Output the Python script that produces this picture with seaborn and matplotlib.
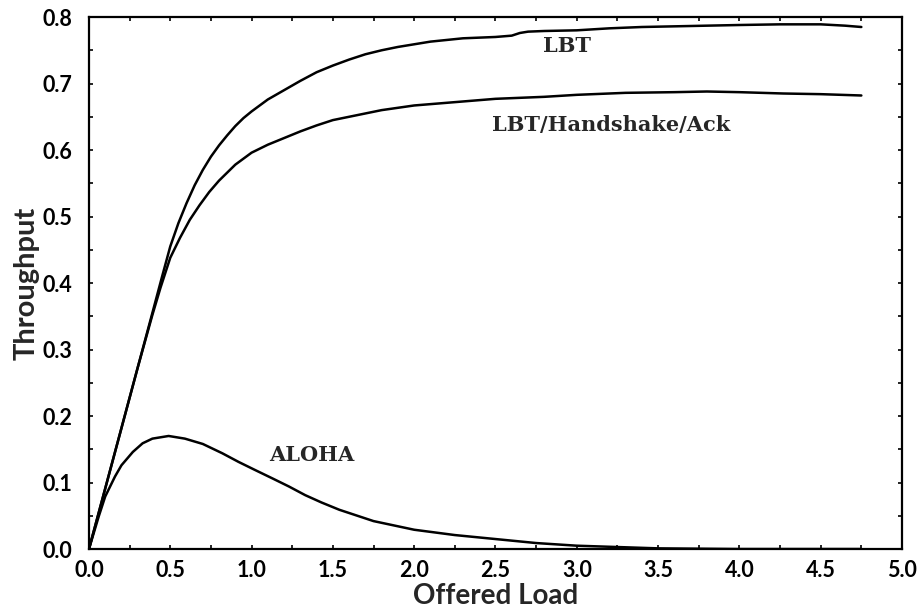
import numpy as np
import pandas as pd
import matplotlib
matplotlib.use("Agg")
import matplotlib.pyplot as plt
import seaborn as sns
from matplotlib.ticker import MultipleLocator

# ---- data ----
lbt_x = [0, 0.1, 0.2, 0.3, 0.39, 0.45, 0.5, 0.55, 0.6, 0.65, 0.7, 0.75, 0.8, 0.85,
         0.9, 0.95, 1.0, 1.1, 1.2, 1.3, 1.4, 1.5, 1.6, 1.7, 1.8, 1.9, 2.0, 2.1,
         2.3, 2.5, 2.6, 2.65, 2.7, 2.8, 3.0, 3.2, 3.4, 3.6, 3.8, 4.0, 4.25, 4.5,
         4.65, 4.75]
lbt_y = [0, 0.091, 0.182, 0.273, 0.355, 0.41, 0.455, 0.49, 0.52, 0.547, 0.57,
         0.59, 0.607, 0.622, 0.636, 0.648, 0.658, 0.676, 0.690, 0.704, 0.717,
         0.727, 0.736, 0.744, 0.750, 0.755, 0.759, 0.763, 0.768, 0.770, 0.772,
         0.776, 0.778, 0.779, 0.780, 0.783, 0.785, 0.786, 0.787, 0.788, 0.789,
         0.789, 0.787, 0.785]

hs_x = [0, 0.1, 0.2, 0.3, 0.39, 0.44, 0.5, 0.56, 0.62, 0.68, 0.74, 0.8, 0.9, 1.0,
        1.1, 1.2, 1.3, 1.4, 1.5, 1.6, 1.8, 2.0, 2.2, 2.5, 2.8, 3.0, 3.3, 3.6, 3.8,
        4.0, 4.27, 4.5, 4.75]
hs_y = [0, 0.091, 0.182, 0.273, 0.352, 0.393, 0.438, 0.468, 0.495, 0.517, 0.537,
        0.554, 0.578, 0.596, 0.608, 0.618, 0.628, 0.637, 0.645, 0.650, 0.660,
        0.667, 0.671, 0.677, 0.680, 0.683, 0.686, 0.687, 0.688, 0.687, 0.685,
        0.684, 0.682]

aloha_x = [0, 0.06, 0.1, 0.16, 0.2, 0.27, 0.33, 0.39, 0.49, 0.59, 0.7, 0.82, 0.92,
           1.02, 1.13, 1.23, 1.33, 1.43, 1.54, 1.75, 2.0, 2.25, 2.5, 2.75, 3.0,
           3.25, 3.5, 4.0, 4.75]
aloha_y = [0, 0.049, 0.079, 0.109, 0.126, 0.146, 0.159, 0.166, 0.170, 0.166,
           0.158, 0.144, 0.131, 0.119, 0.106, 0.094, 0.081, 0.070, 0.059, 0.042,
           0.029, 0.021, 0.015, 0.009, 0.005, 0.003, 0.001, 0.0, 0.0]

series_names = ["LBT", "LBT/Handshake/Ack", "ALOHA"]
x_ticks = [0.0, 0.5, 1.0, 1.5, 2.0, 2.5, 3.0, 3.5, 4.0, 4.5, 5.0]
y_ticks = [0.0, 0.1, 0.2, 0.3, 0.4, 0.5, 0.6, 0.7, 0.8]

df = pd.concat([
    pd.DataFrame({"load": lbt_x, "thr": lbt_y, "series": series_names[0]}),
    pd.DataFrame({"load": hs_x, "thr": hs_y, "series": series_names[1]}),
    pd.DataFrame({"load": aloha_x, "thr": aloha_y, "series": series_names[2]}),
], ignore_index=True)

sns.set_style("ticks")
plt.rcParams["font.family"] = ["Lato", "DejaVu Sans"]

fig = plt.figure(figsize=(9.19, 6.08), dpi=100)
ax = fig.add_axes([0.0968, 0.097, 0.8847, 0.875])

sns.lineplot(data=df, x="load", y="thr", hue="series", units="series",
             estimator=None, sort=False,
             palette={n: "black" for n in series_names}, linewidth=1.8,
             legend=False, ax=ax)

ax.set_xlim(0, 5)
ax.set_ylim(0, 0.8)
ax.set_xticks(x_ticks)
ax.set_yticks(y_ticks)
ax.set_xticklabels([f"{v:.1f}" for v in x_ticks])
ax.set_yticklabels([f"{v:.1f}" for v in y_ticks])
ax.xaxis.set_minor_locator(MultipleLocator(0.25))
ax.yaxis.set_minor_locator(MultipleLocator(0.05))
ax.tick_params(which="both", direction="in", top=True, right=True,
               length=3, width=1.2, colors="black")
ax.tick_params(axis="x", which="major", labelsize=15.5, pad=8)
ax.tick_params(axis="y", which="major", labelsize=15.5, pad=12)
for lab in ax.get_xticklabels() + ax.get_yticklabels():
    lab.set_fontweight("bold")
for s in ax.spines.values():
    s.set_linewidth(1.6)
    s.set_color("black")

ax.set_xlabel("Offered Load", fontsize=20, fontweight="bold", labelpad=1)
ax.set_ylabel("Throughput", fontsize=21, fontweight="bold", labelpad=2)

serif = dict(family=["DejaVu Serif"], fontweight="bold", fontsize=15,
             ha="center", va="center")
ax.text(2.94, 0.756, "LBT", **serif)
ax.text(3.21, 0.638, "LBT/Handshake/Ack", **serif)
ax.text(1.37, 0.141, "ALOHA", **serif)

fig.savefig("out.png", dpi=100)
